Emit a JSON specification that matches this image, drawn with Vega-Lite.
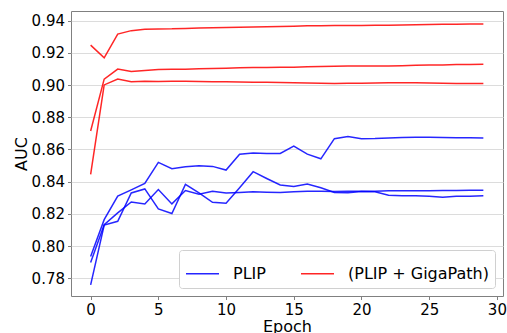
{
  "$schema": "https://vega.github.io/schema/vega-lite/v6.json",
  "width": 432,
  "height": 285,
  "autosize": {"type": "none"},
  "padding": {"left": 71, "top": 11, "right": 4, "bottom": 37},
  "background": "white",
  "config": {
    "font": "DejaVu Sans",
    "view": {"stroke": "#808080", "strokeWidth": 1},
    "axis": {
      "labelFont": "DejaVu Sans",
      "titleFont": "DejaVu Sans",
      "labelFontSize": 15,
      "titleFontSize": 16,
      "titleFontWeight": "normal",
      "labelColor": "#000000",
      "titleColor": "#000000",
      "domain": false,
      "tickColor": "#808080",
      "tickSize": 3.5,
      "labelPadding": 3
    },
    "legend": {
      "labelFont": "DejaVu Sans",
      "labelFontSize": 16,
      "labelColor": "#000000"
    }
  },
  "data": {
    "values": [
      {"epoch": 0, "auc": 0.7936, "model": "PLIP", "run": "p1"},
      {"epoch": 1, "auc": 0.8164, "model": "PLIP", "run": "p1"},
      {"epoch": 2, "auc": 0.8310, "model": "PLIP", "run": "p1"},
      {"epoch": 3, "auc": 0.8349, "model": "PLIP", "run": "p1"},
      {"epoch": 4, "auc": 0.8389, "model": "PLIP", "run": "p1"},
      {"epoch": 5, "auc": 0.8520, "model": "PLIP", "run": "p1"},
      {"epoch": 6, "auc": 0.8481, "model": "PLIP", "run": "p1"},
      {"epoch": 7, "auc": 0.8492, "model": "PLIP", "run": "p1"},
      {"epoch": 8, "auc": 0.8499, "model": "PLIP", "run": "p1"},
      {"epoch": 9, "auc": 0.8495, "model": "PLIP", "run": "p1"},
      {"epoch": 10, "auc": 0.8472, "model": "PLIP", "run": "p1"},
      {"epoch": 11, "auc": 0.8571, "model": "PLIP", "run": "p1"},
      {"epoch": 12, "auc": 0.8578, "model": "PLIP", "run": "p1"},
      {"epoch": 13, "auc": 0.8575, "model": "PLIP", "run": "p1"},
      {"epoch": 14, "auc": 0.8575, "model": "PLIP", "run": "p1"},
      {"epoch": 15, "auc": 0.8621, "model": "PLIP", "run": "p1"},
      {"epoch": 16, "auc": 0.8571, "model": "PLIP", "run": "p1"},
      {"epoch": 17, "auc": 0.8542, "model": "PLIP", "run": "p1"},
      {"epoch": 18, "auc": 0.8667, "model": "PLIP", "run": "p1"},
      {"epoch": 19, "auc": 0.8681, "model": "PLIP", "run": "p1"},
      {"epoch": 20, "auc": 0.8667, "model": "PLIP", "run": "p1"},
      {"epoch": 21, "auc": 0.8668, "model": "PLIP", "run": "p1"},
      {"epoch": 22, "auc": 0.8671, "model": "PLIP", "run": "p1"},
      {"epoch": 23, "auc": 0.8675, "model": "PLIP", "run": "p1"},
      {"epoch": 24, "auc": 0.8676, "model": "PLIP", "run": "p1"},
      {"epoch": 25, "auc": 0.8676, "model": "PLIP", "run": "p1"},
      {"epoch": 26, "auc": 0.8675, "model": "PLIP", "run": "p1"},
      {"epoch": 27, "auc": 0.8673, "model": "PLIP", "run": "p1"},
      {"epoch": 28, "auc": 0.8673, "model": "PLIP", "run": "p1"},
      {"epoch": 29, "auc": 0.8672, "model": "PLIP", "run": "p1"},

      {"epoch": 0, "auc": 0.7759, "model": "PLIP", "run": "p2"},
      {"epoch": 1, "auc": 0.8130, "model": "PLIP", "run": "p2"},
      {"epoch": 2, "auc": 0.8154, "model": "PLIP", "run": "p2"},
      {"epoch": 3, "auc": 0.8330, "model": "PLIP", "run": "p2"},
      {"epoch": 4, "auc": 0.8355, "model": "PLIP", "run": "p2"},
      {"epoch": 5, "auc": 0.8231, "model": "PLIP", "run": "p2"},
      {"epoch": 6, "auc": 0.8202, "model": "PLIP", "run": "p2"},
      {"epoch": 7, "auc": 0.8383, "model": "PLIP", "run": "p2"},
      {"epoch": 8, "auc": 0.8330, "model": "PLIP", "run": "p2"},
      {"epoch": 9, "auc": 0.8272, "model": "PLIP", "run": "p2"},
      {"epoch": 10, "auc": 0.8266, "model": "PLIP", "run": "p2"},
      {"epoch": 11, "auc": 0.8362, "model": "PLIP", "run": "p2"},
      {"epoch": 12, "auc": 0.8462, "model": "PLIP", "run": "p2"},
      {"epoch": 13, "auc": 0.8420, "model": "PLIP", "run": "p2"},
      {"epoch": 14, "auc": 0.8380, "model": "PLIP", "run": "p2"},
      {"epoch": 15, "auc": 0.8370, "model": "PLIP", "run": "p2"},
      {"epoch": 16, "auc": 0.8385, "model": "PLIP", "run": "p2"},
      {"epoch": 17, "auc": 0.8362, "model": "PLIP", "run": "p2"},
      {"epoch": 18, "auc": 0.8333, "model": "PLIP", "run": "p2"},
      {"epoch": 19, "auc": 0.8331, "model": "PLIP", "run": "p2"},
      {"epoch": 20, "auc": 0.8339, "model": "PLIP", "run": "p2"},
      {"epoch": 21, "auc": 0.8337, "model": "PLIP", "run": "p2"},
      {"epoch": 22, "auc": 0.8316, "model": "PLIP", "run": "p2"},
      {"epoch": 23, "auc": 0.8312, "model": "PLIP", "run": "p2"},
      {"epoch": 24, "auc": 0.8312, "model": "PLIP", "run": "p2"},
      {"epoch": 25, "auc": 0.8310, "model": "PLIP", "run": "p2"},
      {"epoch": 26, "auc": 0.8303, "model": "PLIP", "run": "p2"},
      {"epoch": 27, "auc": 0.8310, "model": "PLIP", "run": "p2"},
      {"epoch": 28, "auc": 0.8309, "model": "PLIP", "run": "p2"},
      {"epoch": 29, "auc": 0.8312, "model": "PLIP", "run": "p2"},

      {"epoch": 0, "auc": 0.7898, "model": "PLIP", "run": "p3"},
      {"epoch": 1, "auc": 0.8133, "model": "PLIP", "run": "p3"},
      {"epoch": 2, "auc": 0.8206, "model": "PLIP", "run": "p3"},
      {"epoch": 3, "auc": 0.8274, "model": "PLIP", "run": "p3"},
      {"epoch": 4, "auc": 0.8262, "model": "PLIP", "run": "p3"},
      {"epoch": 5, "auc": 0.8351, "model": "PLIP", "run": "p3"},
      {"epoch": 6, "auc": 0.8262, "model": "PLIP", "run": "p3"},
      {"epoch": 7, "auc": 0.8345, "model": "PLIP", "run": "p3"},
      {"epoch": 8, "auc": 0.8322, "model": "PLIP", "run": "p3"},
      {"epoch": 9, "auc": 0.8341, "model": "PLIP", "run": "p3"},
      {"epoch": 10, "auc": 0.8330, "model": "PLIP", "run": "p3"},
      {"epoch": 11, "auc": 0.8333, "model": "PLIP", "run": "p3"},
      {"epoch": 12, "auc": 0.8337, "model": "PLIP", "run": "p3"},
      {"epoch": 13, "auc": 0.8335, "model": "PLIP", "run": "p3"},
      {"epoch": 14, "auc": 0.8333, "model": "PLIP", "run": "p3"},
      {"epoch": 15, "auc": 0.8337, "model": "PLIP", "run": "p3"},
      {"epoch": 16, "auc": 0.8341, "model": "PLIP", "run": "p3"},
      {"epoch": 17, "auc": 0.8341, "model": "PLIP", "run": "p3"},
      {"epoch": 18, "auc": 0.8339, "model": "PLIP", "run": "p3"},
      {"epoch": 19, "auc": 0.8341, "model": "PLIP", "run": "p3"},
      {"epoch": 20, "auc": 0.8341, "model": "PLIP", "run": "p3"},
      {"epoch": 21, "auc": 0.8341, "model": "PLIP", "run": "p3"},
      {"epoch": 22, "auc": 0.8343, "model": "PLIP", "run": "p3"},
      {"epoch": 23, "auc": 0.8343, "model": "PLIP", "run": "p3"},
      {"epoch": 24, "auc": 0.8343, "model": "PLIP", "run": "p3"},
      {"epoch": 25, "auc": 0.8343, "model": "PLIP", "run": "p3"},
      {"epoch": 26, "auc": 0.8345, "model": "PLIP", "run": "p3"},
      {"epoch": 27, "auc": 0.8345, "model": "PLIP", "run": "p3"},
      {"epoch": 28, "auc": 0.8346, "model": "PLIP", "run": "p3"},
      {"epoch": 29, "auc": 0.8347, "model": "PLIP", "run": "p3"},

      {"epoch": 0, "auc": 0.9248, "model": "(PLIP + GigaPath)", "run": "g1"},
      {"epoch": 1, "auc": 0.9169, "model": "(PLIP + GigaPath)", "run": "g1"},
      {"epoch": 2, "auc": 0.9317, "model": "(PLIP + GigaPath)", "run": "g1"},
      {"epoch": 3, "auc": 0.9338, "model": "(PLIP + GigaPath)", "run": "g1"},
      {"epoch": 4, "auc": 0.9346, "model": "(PLIP + GigaPath)", "run": "g1"},
      {"epoch": 5, "auc": 0.9348, "model": "(PLIP + GigaPath)", "run": "g1"},
      {"epoch": 6, "auc": 0.9349, "model": "(PLIP + GigaPath)", "run": "g1"},
      {"epoch": 7, "auc": 0.9352, "model": "(PLIP + GigaPath)", "run": "g1"},
      {"epoch": 8, "auc": 0.9355, "model": "(PLIP + GigaPath)", "run": "g1"},
      {"epoch": 9, "auc": 0.9356, "model": "(PLIP + GigaPath)", "run": "g1"},
      {"epoch": 10, "auc": 0.9358, "model": "(PLIP + GigaPath)", "run": "g1"},
      {"epoch": 11, "auc": 0.9359, "model": "(PLIP + GigaPath)", "run": "g1"},
      {"epoch": 12, "auc": 0.9361, "model": "(PLIP + GigaPath)", "run": "g1"},
      {"epoch": 13, "auc": 0.9362, "model": "(PLIP + GigaPath)", "run": "g1"},
      {"epoch": 14, "auc": 0.9364, "model": "(PLIP + GigaPath)", "run": "g1"},
      {"epoch": 15, "auc": 0.9366, "model": "(PLIP + GigaPath)", "run": "g1"},
      {"epoch": 16, "auc": 0.9368, "model": "(PLIP + GigaPath)", "run": "g1"},
      {"epoch": 17, "auc": 0.9369, "model": "(PLIP + GigaPath)", "run": "g1"},
      {"epoch": 18, "auc": 0.9370, "model": "(PLIP + GigaPath)", "run": "g1"},
      {"epoch": 19, "auc": 0.9370, "model": "(PLIP + GigaPath)", "run": "g1"},
      {"epoch": 20, "auc": 0.9370, "model": "(PLIP + GigaPath)", "run": "g1"},
      {"epoch": 21, "auc": 0.9371, "model": "(PLIP + GigaPath)", "run": "g1"},
      {"epoch": 22, "auc": 0.9372, "model": "(PLIP + GigaPath)", "run": "g1"},
      {"epoch": 23, "auc": 0.9373, "model": "(PLIP + GigaPath)", "run": "g1"},
      {"epoch": 24, "auc": 0.9375, "model": "(PLIP + GigaPath)", "run": "g1"},
      {"epoch": 25, "auc": 0.9376, "model": "(PLIP + GigaPath)", "run": "g1"},
      {"epoch": 26, "auc": 0.9377, "model": "(PLIP + GigaPath)", "run": "g1"},
      {"epoch": 27, "auc": 0.9378, "model": "(PLIP + GigaPath)", "run": "g1"},
      {"epoch": 28, "auc": 0.9379, "model": "(PLIP + GigaPath)", "run": "g1"},
      {"epoch": 29, "auc": 0.9379, "model": "(PLIP + GigaPath)", "run": "g1"},

      {"epoch": 0, "auc": 0.8715, "model": "(PLIP + GigaPath)", "run": "g2"},
      {"epoch": 1, "auc": 0.9037, "model": "(PLIP + GigaPath)", "run": "g2"},
      {"epoch": 2, "auc": 0.9099, "model": "(PLIP + GigaPath)", "run": "g2"},
      {"epoch": 3, "auc": 0.9084, "model": "(PLIP + GigaPath)", "run": "g2"},
      {"epoch": 4, "auc": 0.9090, "model": "(PLIP + GigaPath)", "run": "g2"},
      {"epoch": 5, "auc": 0.9096, "model": "(PLIP + GigaPath)", "run": "g2"},
      {"epoch": 6, "auc": 0.9098, "model": "(PLIP + GigaPath)", "run": "g2"},
      {"epoch": 7, "auc": 0.9099, "model": "(PLIP + GigaPath)", "run": "g2"},
      {"epoch": 8, "auc": 0.9101, "model": "(PLIP + GigaPath)", "run": "g2"},
      {"epoch": 9, "auc": 0.9103, "model": "(PLIP + GigaPath)", "run": "g2"},
      {"epoch": 10, "auc": 0.9105, "model": "(PLIP + GigaPath)", "run": "g2"},
      {"epoch": 11, "auc": 0.9107, "model": "(PLIP + GigaPath)", "run": "g2"},
      {"epoch": 12, "auc": 0.9109, "model": "(PLIP + GigaPath)", "run": "g2"},
      {"epoch": 13, "auc": 0.9109, "model": "(PLIP + GigaPath)", "run": "g2"},
      {"epoch": 14, "auc": 0.9110, "model": "(PLIP + GigaPath)", "run": "g2"},
      {"epoch": 15, "auc": 0.9111, "model": "(PLIP + GigaPath)", "run": "g2"},
      {"epoch": 16, "auc": 0.9113, "model": "(PLIP + GigaPath)", "run": "g2"},
      {"epoch": 17, "auc": 0.9115, "model": "(PLIP + GigaPath)", "run": "g2"},
      {"epoch": 18, "auc": 0.9117, "model": "(PLIP + GigaPath)", "run": "g2"},
      {"epoch": 19, "auc": 0.9118, "model": "(PLIP + GigaPath)", "run": "g2"},
      {"epoch": 20, "auc": 0.9119, "model": "(PLIP + GigaPath)", "run": "g2"},
      {"epoch": 21, "auc": 0.9119, "model": "(PLIP + GigaPath)", "run": "g2"},
      {"epoch": 22, "auc": 0.9118, "model": "(PLIP + GigaPath)", "run": "g2"},
      {"epoch": 23, "auc": 0.9120, "model": "(PLIP + GigaPath)", "run": "g2"},
      {"epoch": 24, "auc": 0.9123, "model": "(PLIP + GigaPath)", "run": "g2"},
      {"epoch": 25, "auc": 0.9124, "model": "(PLIP + GigaPath)", "run": "g2"},
      {"epoch": 26, "auc": 0.9125, "model": "(PLIP + GigaPath)", "run": "g2"},
      {"epoch": 27, "auc": 0.9127, "model": "(PLIP + GigaPath)", "run": "g2"},
      {"epoch": 28, "auc": 0.9128, "model": "(PLIP + GigaPath)", "run": "g2"},
      {"epoch": 29, "auc": 0.9130, "model": "(PLIP + GigaPath)", "run": "g2"},

      {"epoch": 0, "auc": 0.8445, "model": "(PLIP + GigaPath)", "run": "g3"},
      {"epoch": 1, "auc": 0.9001, "model": "(PLIP + GigaPath)", "run": "g3"},
      {"epoch": 2, "auc": 0.9037, "model": "(PLIP + GigaPath)", "run": "g3"},
      {"epoch": 3, "auc": 0.9020, "model": "(PLIP + GigaPath)", "run": "g3"},
      {"epoch": 4, "auc": 0.9024, "model": "(PLIP + GigaPath)", "run": "g3"},
      {"epoch": 5, "auc": 0.9022, "model": "(PLIP + GigaPath)", "run": "g3"},
      {"epoch": 6, "auc": 0.9024, "model": "(PLIP + GigaPath)", "run": "g3"},
      {"epoch": 7, "auc": 0.9023, "model": "(PLIP + GigaPath)", "run": "g3"},
      {"epoch": 8, "auc": 0.9022, "model": "(PLIP + GigaPath)", "run": "g3"},
      {"epoch": 9, "auc": 0.9021, "model": "(PLIP + GigaPath)", "run": "g3"},
      {"epoch": 10, "auc": 0.9020, "model": "(PLIP + GigaPath)", "run": "g3"},
      {"epoch": 11, "auc": 0.9019, "model": "(PLIP + GigaPath)", "run": "g3"},
      {"epoch": 12, "auc": 0.9018, "model": "(PLIP + GigaPath)", "run": "g3"},
      {"epoch": 13, "auc": 0.9017, "model": "(PLIP + GigaPath)", "run": "g3"},
      {"epoch": 14, "auc": 0.9016, "model": "(PLIP + GigaPath)", "run": "g3"},
      {"epoch": 15, "auc": 0.9014, "model": "(PLIP + GigaPath)", "run": "g3"},
      {"epoch": 16, "auc": 0.9013, "model": "(PLIP + GigaPath)", "run": "g3"},
      {"epoch": 17, "auc": 0.9012, "model": "(PLIP + GigaPath)", "run": "g3"},
      {"epoch": 18, "auc": 0.9010, "model": "(PLIP + GigaPath)", "run": "g3"},
      {"epoch": 19, "auc": 0.9011, "model": "(PLIP + GigaPath)", "run": "g3"},
      {"epoch": 20, "auc": 0.9012, "model": "(PLIP + GigaPath)", "run": "g3"},
      {"epoch": 21, "auc": 0.9013, "model": "(PLIP + GigaPath)", "run": "g3"},
      {"epoch": 22, "auc": 0.9014, "model": "(PLIP + GigaPath)", "run": "g3"},
      {"epoch": 23, "auc": 0.9014, "model": "(PLIP + GigaPath)", "run": "g3"},
      {"epoch": 24, "auc": 0.9014, "model": "(PLIP + GigaPath)", "run": "g3"},
      {"epoch": 25, "auc": 0.9013, "model": "(PLIP + GigaPath)", "run": "g3"},
      {"epoch": 26, "auc": 0.9012, "model": "(PLIP + GigaPath)", "run": "g3"},
      {"epoch": 27, "auc": 0.9010, "model": "(PLIP + GigaPath)", "run": "g3"},
      {"epoch": 28, "auc": 0.9009, "model": "(PLIP + GigaPath)", "run": "g3"},
      {"epoch": 29, "auc": 0.9009, "model": "(PLIP + GigaPath)", "run": "g3"}
    ]
  },
  "mark": {"type": "line", "strokeWidth": 1.5, "opacity": 0.85, "clip": true},
  "encoding": {
    "x": {
      "field": "epoch",
      "type": "quantitative",
      "title": "Epoch",
      "scale": {"domain": [-1.45, 30.45], "nice": false, "zero": false},
      "axis": {"values": [0, 5, 10, 15, 20, 25, 30], "grid": false, "format": "d", "titlePadding": 1, "labelFlush": false}
    },
    "y": {
      "field": "auc",
      "type": "quantitative",
      "title": "AUC",
      "scale": {"domain": [0.769, 0.946], "nice": false, "zero": false},
      "axis": {"values": [0.78, 0.80, 0.82, 0.84, 0.86, 0.88, 0.90, 0.92, 0.94], "format": ".2f", "grid": true, "gridColor": "#dcdcdc", "gridWidth": 1, "titlePadding": 2, "labelFlush": false}
    },
    "color": {
      "field": "model",
      "type": "nominal",
      "scale": {"domain": ["PLIP", "(PLIP + GigaPath)"], "range": ["#0000ff", "#ff0000"]},
      "legend": {
        "title": null,
        "orient": "bottom-right",
        "direction": "horizontal",
        "offset": 8,
        "symbolType": "stroke",
        "symbolSize": 1089,
        "symbolStrokeWidth": 1.5,
        "labelOffset": 13,
        "columnPadding": 32,
        "padding": 6,
        "strokeColor": "#d0d0d0",
        "fillColor": "white",
        "cornerRadius": 3
      }
    },
    "detail": {"field": "run", "type": "nominal"}
  }
}
